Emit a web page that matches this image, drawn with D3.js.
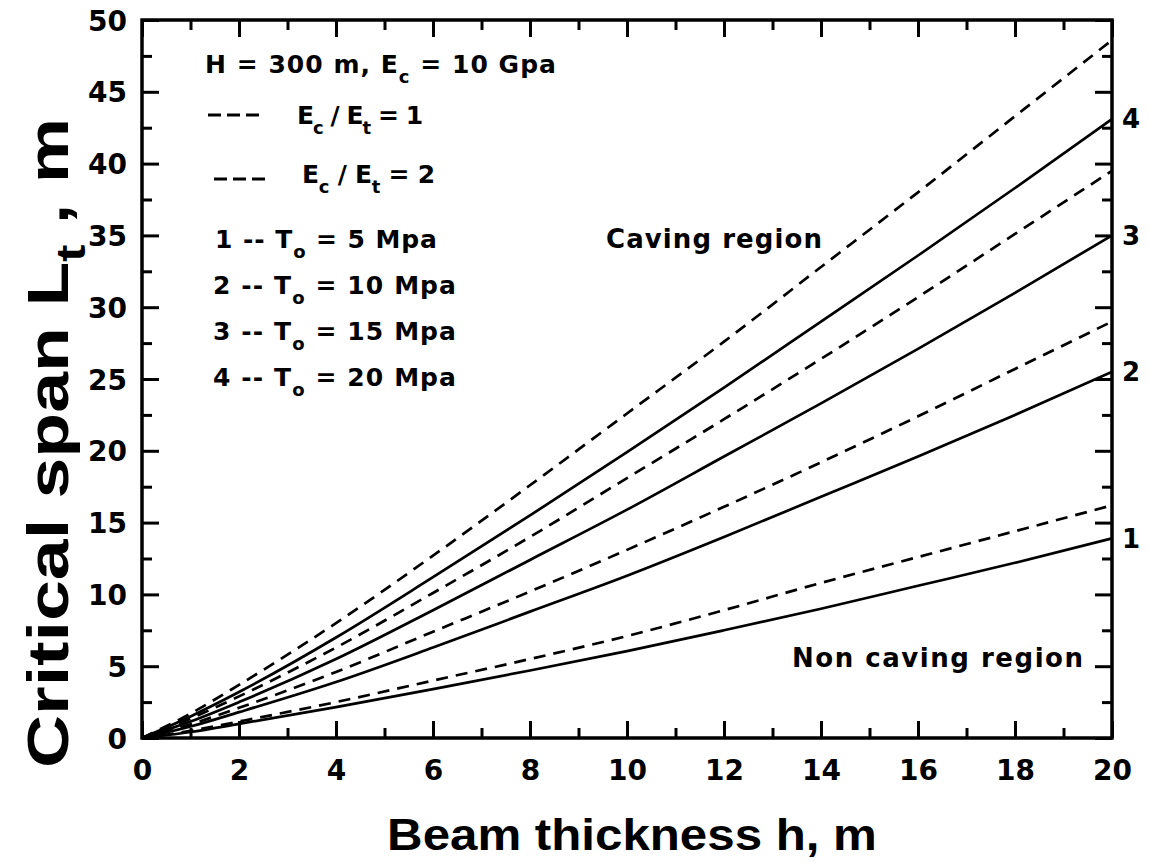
<!DOCTYPE html>
<html>
<head>
<meta charset="utf-8">
<script src="https://cdn.jsdelivr.net/npm/d3@7"></script>
<style>
  html, body { margin: 0; padding: 0; background: #fff; }
  svg { display: block; }
  text { fill: #000; }
</style>
</head>
<body>
<svg id="chart" width="1149" height="862"></svg>
<script>
// Beam thickness h (m)
const thickness = [0, 1, 2, 4, 6, 8, 10, 12, 14, 16, 18, 20];

// Critical span Lt (m), solid curves
const spanT5Solid  = [0, 0.42, 0.98, 2.15, 3.4, 4.7, 6.05, 7.5, 9.0, 10.6, 12.2, 13.9];
const spanT10Solid = [0, 0.8, 1.8, 3.9, 6.3, 8.8, 11.3, 14.0, 16.8, 19.6, 22.5, 25.5];
const spanT15Solid = [0, 1.15, 2.5, 5.5, 8.9, 12.4, 15.9, 19.6, 23.3, 27.1, 31.0, 35.0];
const spanT20Solid = [0, 1.5, 3.2, 7.0, 11.2, 15.5, 19.9, 24.4, 29.0, 33.6, 38.3, 43.1];

// Critical span Lt (m), dashed curves
const spanT5Dashed  = [0, 0.5, 1.15, 2.5, 4.0, 5.5, 7.1, 8.9, 10.8, 12.6, 14.4, 16.2];
const spanT10Dashed = [0, 0.95, 2.1, 4.6, 7.4, 10.2, 13.1, 16.1, 19.2, 22.4, 25.7, 29.0];
const spanT15Dashed = [0, 1.35, 2.9, 6.3, 10.1, 14.0, 18.1, 22.2, 26.4, 30.7, 35.1, 39.5];
const spanT20Dashed = [0, 1.7, 3.7, 8.0, 12.7, 17.6, 22.6, 27.6, 32.8, 38.0, 43.3, 48.6];

// Curve numbers written at the right edge
const curveLabels = ["1", "2", "3", "4"];

// Axis ticks
const xMajorTicks = [0, 2, 4, 6, 8, 10, 12, 14, 16, 18, 20];
const xMinorTicks = [1, 3, 5, 7, 9, 11, 13, 15, 17, 19];
const yMajorTicks = [0, 5, 10, 15, 20, 25, 30, 35, 40, 45, 50];
const yMinorTicks = [2.5, 7.5, 12.5, 17.5, 22.5, 27.5, 32.5, 37.5, 42.5, 47.5];

const series = [
  { values: spanT5Dashed,  dashed: true },
  { values: spanT10Dashed, dashed: true },
  { values: spanT15Dashed, dashed: true },
  { values: spanT20Dashed, dashed: true },
  { values: spanT5Solid,  dashed: false, label: curveLabels[0] },
  { values: spanT10Solid, dashed: false, label: curveLabels[1] },
  { values: spanT15Solid, dashed: false, label: curveLabels[2] },
  { values: spanT20Solid, dashed: false, label: curveLabels[3] }
];

const svg = d3.select("#chart");
const plotLeft = 142, plotRight = 1112, plotTop = 20, plotBottom = 738;

const x = d3.scaleLinear().domain([0, 20]).range([plotLeft, plotRight]);
const y = d3.scaleLinear().domain([0, 50]).range([plotBottom, plotTop]);

const NUM_FONT = "'DejaVu Sans', sans-serif";
const TITLE_FONT = "'Liberation Sans', Arial, sans-serif";

// ---- curves ----
const line = d3.line()
  .x((d, i) => x(thickness[i]))
  .y(d => y(d))
  .curve(d3.curveMonotoneX);

const plot = svg.append("g");
plot.append("defs").append("clipPath").attr("id", "clip")
  .append("rect").attr("x", plotLeft).attr("y", plotTop)
  .attr("width", plotRight - plotLeft).attr("height", plotBottom - plotTop);

plot.append("g").attr("clip-path", "url(#clip)")
  .selectAll("path")
  .data(series)
  .join("path")
  .attr("d", d => line(d.values))
  .attr("fill", "none")
  .attr("stroke", "#000")
  .attr("stroke-width", 2.7)
  .attr("stroke-dasharray", d => d.dashed ? "12,8" : null);

// ---- axes (ticks point inward) ----
function styleAxis(g) {
  g.select(".domain").remove();
  g.selectAll(".tick line").attr("stroke", "#000").attr("stroke-width", 3);
  g.selectAll(".tick text")
    .attr("font-family", NUM_FONT)
    .attr("font-weight", "bold")
    .attr("font-size", 28)
    .attr("fill", "#000");
}

svg.append("g").attr("transform", `translate(0,${plotBottom})`)
  .call(d3.axisBottom(x).tickValues(xMajorTicks).tickSize(-17).tickPadding(22).tickFormat(d3.format("d")))
  .call(styleAxis);
svg.append("g").attr("transform", `translate(0,${plotBottom})`)
  .call(d3.axisBottom(x).tickValues(xMinorTicks).tickSize(-10).tickFormat(""))
  .call(styleAxis);
svg.append("g").attr("transform", `translate(0,${plotTop})`)
  .call(d3.axisTop(x).tickValues(xMajorTicks).tickSize(-17).tickFormat(""))
  .call(styleAxis);
svg.append("g").attr("transform", `translate(0,${plotTop})`)
  .call(d3.axisTop(x).tickValues(xMinorTicks).tickSize(-10).tickFormat(""))
  .call(styleAxis);

svg.append("g").attr("transform", `translate(${plotLeft},0)`)
  .call(d3.axisLeft(y).tickValues(yMajorTicks).tickSize(-17).tickPadding(15).tickFormat(d3.format("d")))
  .call(styleAxis)
  .selectAll(".tick text").attr("dy", "0.36em");
svg.append("g").attr("transform", `translate(${plotLeft},0)`)
  .call(d3.axisLeft(y).tickValues(yMinorTicks).tickSize(-10).tickFormat(""))
  .call(styleAxis);
svg.append("g").attr("transform", `translate(${plotRight},0)`)
  .call(d3.axisRight(y).tickValues(yMajorTicks).tickSize(-17).tickFormat(""))
  .call(styleAxis);
svg.append("g").attr("transform", `translate(${plotRight},0)`)
  .call(d3.axisRight(y).tickValues(yMinorTicks).tickSize(-10).tickFormat(""))
  .call(styleAxis);

// frame
svg.append("rect")
  .attr("x", plotLeft).attr("y", plotTop)
  .attr("width", plotRight - plotLeft).attr("height", plotBottom - plotTop)
  .attr("fill", "none").attr("stroke", "#000").attr("stroke-width", 3.5);

// ---- curve numbers at the right edge ----
svg.selectAll(".curve-num")
  .data(series.filter(s => s.label))
  .join("text")
  .attr("class", "curve-num")
  .attr("x", plotRight + 19)
  .attr("y", d => y(d.values[d.values.length - 1]))
  .attr("dy", "0.36em")
  .attr("text-anchor", "middle")
  .attr("font-family", NUM_FONT)
  .attr("font-weight", "bold")
  .attr("font-size", 26)
  .text(d => d.label);

// ---- text helpers ----
// Spread letters so a text occupies the given width.
function spreadTo(sel, width) {
  const node = sel.node();
  const w = node.getComputedTextLength();
  const n = node.textContent.length;
  if (n > 1) sel.attr("letter-spacing", ((width - w) / (n - 1)).toFixed(2));
  return sel;
}

// Rich text: parts are [string, isSubscript]
function richText(g, xPos, yPos, parts, size, width) {
  const t = g.append("text")
    .attr("x", xPos).attr("y", yPos)
    .attr("font-family", NUM_FONT)
    .attr("font-weight", "bold")
    .attr("font-size", size);
  let shifted = 0;
  parts.forEach(([s, sub]) => {
    const dy = sub ? size * 0.38 - shifted : -shifted;
    shifted = sub ? size * 0.38 : 0;
    t.append("tspan")
      .attr("dy", dy || null)
      .attr("font-size", sub ? size * 0.72 : null)
      .text(s);
  });
  if (width) spreadTo(t, width);
  return t;
}

// ---- legend block ----
const legend = svg.append("g");
richText(legend, 205, 73, [["H = 300 m, E", false], ["c", true], [" = 10 Gpa", false]], 25, 351);

legend.append("line")
  .attr("x1", 208).attr("x2", 259).attr("y1", 115).attr("y2", 115)
  .attr("stroke", "#000").attr("stroke-width", 3).attr("stroke-dasharray", "13,6");
richText(legend, 297, 124, [["E", false], ["c", true], [" / E", false], ["t", true], [" = 1", false]], 25, 126);

legend.append("line")
  .attr("x1", 214).attr("x2", 265).attr("y1", 179).attr("y2", 179)
  .attr("stroke", "#000").attr("stroke-width", 3).attr("stroke-dasharray", "13,6");
richText(legend, 302, 183, [["E", false], ["c", true], [" / E", false], ["t", true], [" = 2", false]], 25, 133);

richText(legend, 215, 248, [["1 -- T", false], ["o", true], [" = 5 Mpa", false]], 25, 222);
richText(legend, 213, 294, [["2 -- T", false], ["o", true], [" = 10 Mpa", false]], 25, 243);
richText(legend, 213, 340, [["3 -- T", false], ["o", true], [" = 15 Mpa", false]], 25, 243);
richText(legend, 213, 386, [["4 -- T", false], ["o", true], [" = 20 Mpa", false]], 25, 243);

// ---- region labels ----
spreadTo(svg.append("text")
  .attr("x", 606).attr("y", 248)
  .attr("font-family", NUM_FONT).attr("font-weight", "bold").attr("font-size", 26)
  .text("Caving region"), 216);

spreadTo(svg.append("text")
  .attr("x", 792).attr("y", 667)
  .attr("font-family", NUM_FONT).attr("font-weight", "bold").attr("font-size", 26)
  .text("Non caving region"), 291);

// ---- axis titles (stretched horizontally to their span) ----
function stretchedTitle(cx, cy, angle, parts, size, width) {
  const g = svg.append("g").attr("transform", `translate(${cx},${cy}) rotate(${angle})`);
  const inner = g.append("g");
  const t = inner.append("text")
    .attr("text-anchor", "middle")
    .attr("font-family", TITLE_FONT)
    .attr("font-weight", "bold")
    .attr("font-size", size);
  let shifted = 0;
  parts.forEach(([s, sub]) => {
    const dy = sub ? size * 0.3 - shifted : -shifted;
    shifted = sub ? size * 0.3 : 0;
    t.append("tspan")
      .attr("dy", dy || null)
      .attr("font-size", sub ? size * 0.7 : null)
      .text(s);
  });
  const w = t.node().getBBox().width;
  inner.attr("transform", `scale(${width / w},1)`);
}

stretchedTitle(632, 850, 0, [["Beam thickness h, m", false]], 45, 490);
stretchedTitle(68, 443, -90, [["Critical span L", false], ["t", true], [" , m", false]], 57, 650);
</script>
</body>
</html>
